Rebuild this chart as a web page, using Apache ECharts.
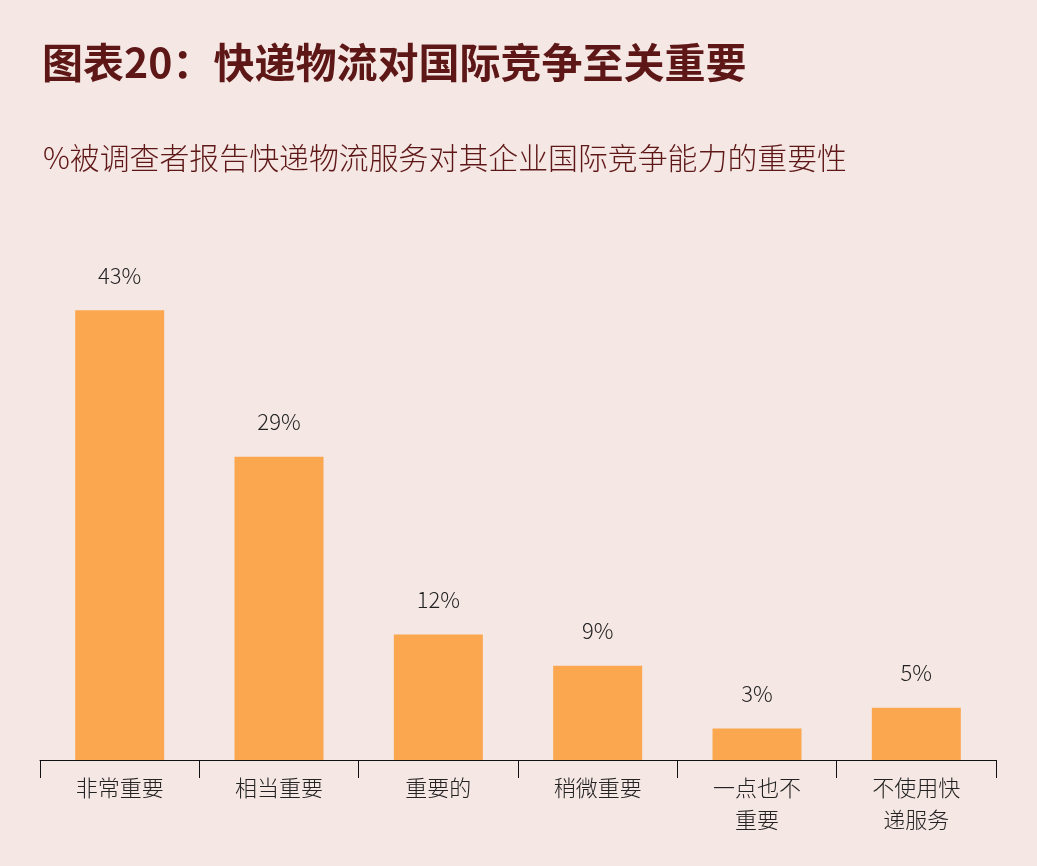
<!DOCTYPE html>
<html><head><meta charset="utf-8">
<script src="https://cdn.jsdelivr.net/npm/echarts@6/dist/echarts.min.js"></script>
<style>html,body{margin:0;padding:0;background:#F5E7E4;}#c{width:1037px;height:866px;}</style>
</head><body><div id="c"></div>
<script>
const categories = ['非常重要','相当重要','重要的','稍微重要','一点也不\n重要','不使用快\n递服务'];
const values = [43, 29, 12, 9, 3, 5];
const titleText = '图表20：快递物流对国际竞争至关重要';
const subtitleText = '%被调查者报告快递物流服务对其企业国际竞争能力的重要性';

const chart = echarts.init(document.getElementById('c'), null, {renderer:'canvas'});
chart.setOption({
  backgroundColor: '#F5E7E4',
  animation: false,
  title: [
    {text: titleText, left: 37, top: 37, textStyle:{fontFamily:'Noto Sans CJK SC', fontWeight:'bold', fontSize:41, color:'#5E1717'}},
    {text: subtitleText, left: 38, top: 138, textStyle:{fontFamily:'Noto Sans CJK SC', fontWeight:300, fontSize:29.9, color:'#5E1717'}}
  ],
  grid: {left: 40, right: 41, top: 237, bottom: 106, containLabel: false},
  xAxis: {
    type: 'category', data: categories,
    axisLine: {lineStyle:{color:'#111', width:1}},
    axisTick: {show:true, length:18, alignWithLabel:false, lineStyle:{color:'#111'}},
    axisLabel: {fontFamily:'Noto Sans CJK SC', fontWeight:300, fontSize:22, color:'#222', lineHeight:32, margin:12, interval:0}
  },
  yAxis: {type:'value', min:0, max:50, show:false, splitLine:{show:false}},
  series: [{
    type:'bar', data: values, barWidth: 89,
    itemStyle:{color:'#FBA74F'},
    label:{show:true, position:'top', distance:24, formatter:'{c}%', fontFamily:'Noto Sans CJK SC', fontWeight:300, fontSize:22, color:'#222'}
  }]
});
</script></body></html>
